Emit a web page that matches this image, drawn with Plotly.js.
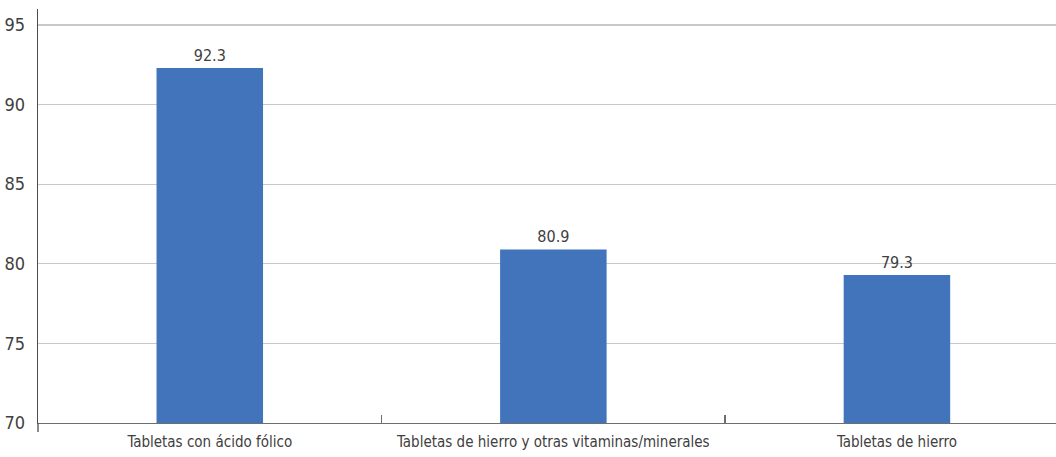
<!DOCTYPE html>
<html>
<head>
<meta charset="utf-8">
<script src="https://cdn.plot.ly/plotly-3.0.1.min.js"></script>
<style>
html,body{margin:0;padding:0;background:#fff;}
#chart{width:1056px;height:457px;}
</style>
</head>
<body>
<div id="chart"></div>
<script>
const categories = ["Tabletas con ácido fólico", "Tabletas de hierro y otras vitaminas/minerales", "Tabletas de hierro"];
const values = [92.3, 80.9, 79.3];
const valueLabels = ["92.3", "80.9", "79.3"];
const yTicks = [70, 75, 80, 85, 90, 95];

const FONT = '"DejaVu Sans Condensed", sans-serif';
const TXT = '#404040';

const trace = {
  type: 'bar',
  x: categories,
  y: values,
  text: valueLabels,
  textposition: 'outside',
  textfont: {family: FONT, size: 16, color: TXT},
  cliponaxis: false,
  marker: {color: '#4174BB', line: {width: 0}},
  width: 0.31,
  hoverinfo: 'none'
};

const layout = {
  width: 1056,
  height: 457,
  margin: {l: 38, r: 0, t: 9, b: 34, pad: 0},
  paper_bgcolor: '#ffffff',
  plot_bgcolor: '#ffffff',
  showlegend: false,
  font: {family: FONT, size: 16, color: TXT},
  xaxis: {
    type: 'category',
    range: [-0.5, 2.463],
    showgrid: false,
    zeroline: false,
    showline: true,
    linecolor: '#6e6e6e',
    linewidth: 1.3,
    ticks: 'inside',
    tickson: 'boundaries',
    ticklen: 8,
    tickcolor: '#6e6e6e',
    tickwidth: 1.3,
    tickangle: 0,
    tickfont: {family: FONT, size: 15, color: TXT},
    ticklabelstandoff: 5
  },
  yaxis: {
    range: [70, 96],
    tickvals: yTicks,
    ticktext: yTicks.map(String),
    showgrid: true,
    gridcolor: '#c9c9c9',
    gridwidth: 1.2,
    zeroline: false,
    showline: true,
    linecolor: '#4d4d4d',
    linewidth: 1.3,
    ticks: '',
    tickfont: {family: FONT, size: 18, color: TXT},
    ticklabelstandoff: 8
  },
  shapes: [
    {type: 'line', xref: 'paper', yref: 'paper', x0: 0, x1: 0, y0: 0, y1: -0.022,
     line: {color: '#4d4d4d', width: 1.3}}
  ]
};

Plotly.newPlot('chart', [trace], layout, {displayModeBar: false, staticPlot: true});
</script>
</body>
</html>
